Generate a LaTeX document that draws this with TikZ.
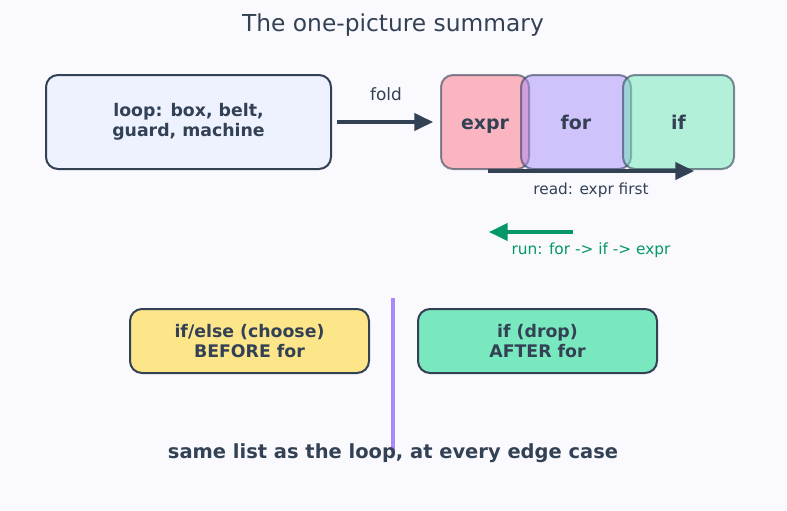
\documentclass[tikz,border=0pt]{standalone}
\usepackage{fontspec}
\setmainfont{DejaVu Sans}
\usetikzlibrary{arrows.meta}
\definecolor{bgc}{HTML}{FAFAFE}
\definecolor{ink}{HTML}{334155}
\definecolor{runc}{HTML}{059669}
\definecolor{linec}{HTML}{A78BFA}
\definecolor{loopc}{HTML}{EEF2FF}
\definecolor{exprc}{HTML}{FB7185}
\definecolor{forc}{HTML}{A78BFA}
\definecolor{ifc}{HTML}{6EE7B7}
\definecolor{yelc}{HTML}{FDE68A}
\definecolor{grnc}{HTML}{7AE8BF}
\tikzset{
 card/.style={draw=ink, line width=1.5pt, rounded corners=9pt, inner sep=0pt, align=center, text=ink, font=\bfseries\fontsize{13}{15}\selectfont},
 chip/.style={card, draw opacity=.6, fill opacity=.5, text opacity=1, minimum height=70.5pt, text height=10.5pt, text depth=0pt, font=\bfseries\fontsize{14.2}{17}\selectfont},
 flow/.style={line width=2.6pt, -{Triangle[length=14pt,width=13pt]}},
 note/.style={font=\fontsize{11.5}{14}\selectfont},
}

\begin{document}
\begin{tikzpicture}[x=.75pt, y=-.75pt]
\fill[bgc] (0,0) rectangle (787,510);
\node[text=ink, font=\fontsize{17.5}{21}\selectfont] (title) at (393,25) {The one-picture summary};
\node[card, fill=loopc, minimum width=213.75pt, minimum height=70.5pt] (loop) at (188.5,122) {loop: box, belt,\\guard, machine};
\foreach \n/\x/\w/\c in {expr/485/66/exprc, for/576/82.5/forc, if/678.5/83.25/ifc}
 \node[chip, fill=\c, minimum width=\w pt] (\n) at (\x,122) {\n};
\draw[flow, ink, shorten <=3.75pt, shorten >=5.25pt] (loop) -- (expr) node[midway, yshift=21pt, text=ink, font=\fontsize{12.7}{15}\selectfont] {fold};
\coordinate (read0) at (488,171);
\coordinate (read1) at (694,171);
\draw[flow, ink] (read0) -- (read1) node[midway, yshift=-14.25pt, note, text=ink] (readlbl) {read: expr first};
\coordinate (run0) at (573,232);
\coordinate (run1) at (489,232);
\draw[flow, runc] (run0) -- (run1);
\node[note, text=runc] (runlbl) at (591,250) {run: for -> if -> expr};
\node[card, fill=yelc, minimum width=179.25pt, minimum height=48pt, font=\bfseries\fontsize{13}{15.5}\selectfont] (before) at (249.5,341) {if/else (choose)\\BEFORE for};
\node[card, fill=grnc, minimum width=179.25pt, minimum height=48pt, font=\bfseries\fontsize{13}{15.5}\selectfont] (after) at (537.5,341) {if (drop)\\AFTER for};
\draw[linec, line width=3pt] (393,298) -- (393,452);
\node[text=ink, font=\bfseries\fontsize{14.6}{17}\selectfont] (same) at (393,453) {same list as the loop, at every edge case};
\end{tikzpicture}
\end{document}
